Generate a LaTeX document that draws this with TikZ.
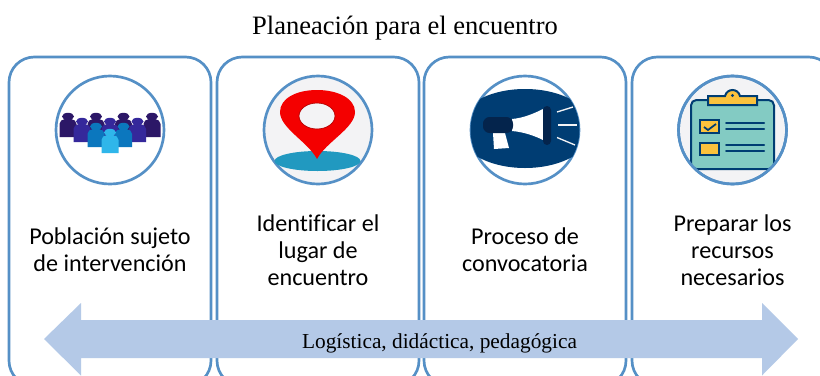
\documentclass[tikz,border=0pt]{standalone}
\usepackage{fontspec}
\setmainfont{Liberation Serif}
\newfontfamily\cardfont[Ligatures=CommonOff]{Carlito}
\definecolor{cardblue}{HTML}{5590C6}
\definecolor{arrowblue}{HTML}{B4C9E7}
\definecolor{navy}{HTML}{003D73}
\definecolor{darknavy}{HTML}{04244C}
\definecolor{pinred}{HTML}{F40000}
\definecolor{pool}{HTML}{2199C0}
\definecolor{paper}{HTML}{F3F3F5}
\definecolor{board}{HTML}{83CBC3}
\definecolor{clipyellow}{HTML}{FBC23D}
\definecolor{ppla}{HTML}{2C1767}
\definecolor{pplb}{HTML}{35289B}
\definecolor{pplc}{HTML}{0B77BE}
\definecolor{ppld}{HTML}{2FB6EA}
\tikzset{
  x=0.75pt,y=-0.75pt,
  cardbox/.style={draw=cardblue,line width=2pt,rounded corners=19pt,fill=white},
  iconring/.style={draw=cardblue,line width=2pt,circle,minimum size=81pt,inner sep=0pt},
  cardtext/.style={font=\cardfont\fontsize{18.1pt}{20.4pt}\selectfont,align=center,text=black},
  titletext/.style={font=\fontsize{19.9pt}{24pt}\selectfont},
  bandtext/.style={font=\fontsize{16pt}{19pt}\selectfont},
  navline/.style={draw=navy,line width=1.5pt,line cap=round},
  rayline/.style={draw=paper,line width=1pt},
  person/.pic={
    \fill[pic actions] (-8.5,0) -- (-8.5,-13) .. controls (-8.5,-16) and (-6,-17.5) .. (-3,-18)
      -- (3,-18) .. controls (6,-17.5) and (8.5,-16) .. (8.5,-13) -- (8.5,0) -- cycle;
    \fill[pic actions] (0,-20.5) ellipse (6 and 3.7);
  }
}
\begin{document}
\begin{tikzpicture}
\useasboundingbox (0,0) rectangle (820,375);
\clip (0,0) rectangle (820,375);
\fill[white] (0,0) rectangle (820,375);
\node[titletext] (title) at (405,28.5) {Planeación para el encuentro};
% cards
\draw[cardbox] (9,57) rectangle (211,386);
\draw[cardbox] (217,57) rectangle (419,386);
\draw[cardbox] (424,57) rectangle (626,386);
\draw[cardbox] (632,57) rectangle (834,386);
% card 1 icon
\node[iconring] (ring1) at (110,130) {};
\path[fill=ppla] (68,137) pic {person};
\path[fill=ppla] (96,137) pic {person};
\path[fill=ppla] (123.5,137) pic {person};
\path[fill=ppla] (152,137) pic {person};
\path[fill=pplb] (82,142) pic {person};
\path[fill=pplb] (110,142) pic {person};
\path[fill=pplb] (137.5,142) pic {person};
\path[fill=pplc] (96,147) pic {person};
\path[fill=pplc] (123.5,147) pic {person};
\path[fill=ppld] (110,153) pic {person};
% card 2 icon
\node[iconring,fill=paper] (ring2) at (318,130) {};
\fill[pool] (317.5,161) ellipse (43 and 10);
\fill[pinred,even odd rule] (317,159) .. controls (308,142) and (280,128) .. (280,112)
  .. controls (280,98) and (297,90) .. (317,90) .. controls (337,90) and (355,98) .. (355,112)
  .. controls (355,128) and (326,142) .. (317,159) -- cycle
  (317,116) ellipse (18 and 13);
\draw[draw=red!70!black,line width=0.5pt] (317,116) ellipse (18 and 13);
% card 3 icon
\node[iconring] (ring3) at (525,130) {};
\begin{scope}
\clip (525,130) circle (54.5);
\fill[navy] (525,128.5) ellipse (68 and 39.5);
\end{scope}
\fill[white] (493,133) -- (505,133) -- (509,148) -- (494,149) -- cycle;
\fill[white] (512,119) .. controls (524,118) and (535,113) .. (543,109) -- (543,140) .. controls (535,136) and (524,132) .. (512,131) -- cycle;
\fill[darknavy,rounded corners=5pt] (483,117) rectangle (513,133);
\fill[darknavy,rounded corners=3pt] (543,106) rectangle (551,145);
\draw[rayline] (557,112) -- (573,107);
\draw[rayline] (558,125) -- (577,125);
\draw[rayline] (557,137.5) -- (575,145);
% card 4 icon
\node[iconring,fill=paper] (ring4) at (732.5,130) {};
\begin{scope}
\clip (732.5,130) circle (53);
\filldraw[fill=board,draw=navy,line width=1.5pt,rounded corners=4pt] (691,100) rectangle (774,169);
\end{scope}
\filldraw[fill=clipyellow,draw=navy,line width=1.5pt] (708,96) -- (725,96) .. controls (727,88) and (738,88) .. (740,96) -- (757,96) -- (757,105) -- (708,105) -- cycle;
\fill[navy] (732.5,95.5) circle (1.6);
\filldraw[fill=clipyellow,draw=navy,line width=1.5pt] (700,120) rectangle (719,132.5);
\draw[draw=navy,line width=1.3pt] (704,127) -- (708,130) -- (716,124);
\filldraw[fill=clipyellow,draw=navy,line width=1.5pt] (700,142.5) rectangle (719,154.5);
\draw[navline] (726,123) -- (764,123);
\draw[navline] (726,129) -- (764,129);
\draw[navline] (726,145) -- (764,145);
\draw[navline] (726,151) -- (764,151);
\draw[draw=cardblue,line width=2pt] (732.5,130) circle (54);
% texts
\node[cardtext] (t1) at (110,250) {Población sujeto\\de intervención};
\node[cardtext] (t2) at (318,250) {Identificar el\\lugar de\\encuentro};
\node[cardtext] (t3) at (525,250) {Proceso de\\convocatoria};
\node[cardtext] (t4) at (732.5,250) {Preparar los\\recursos\\necesarios};
% arrow
\fill[arrowblue] (44,339) -- (81,303) -- (81,320) -- (762,320) -- (762,303) -- (798,339) -- (762,375.5) -- (762,358) -- (81,358) -- (81,375.5) -- cycle;
\node[bandtext] (band) at (439.5,343) {Logística, didáctica, pedagógica};
\end{tikzpicture}
\end{document}
